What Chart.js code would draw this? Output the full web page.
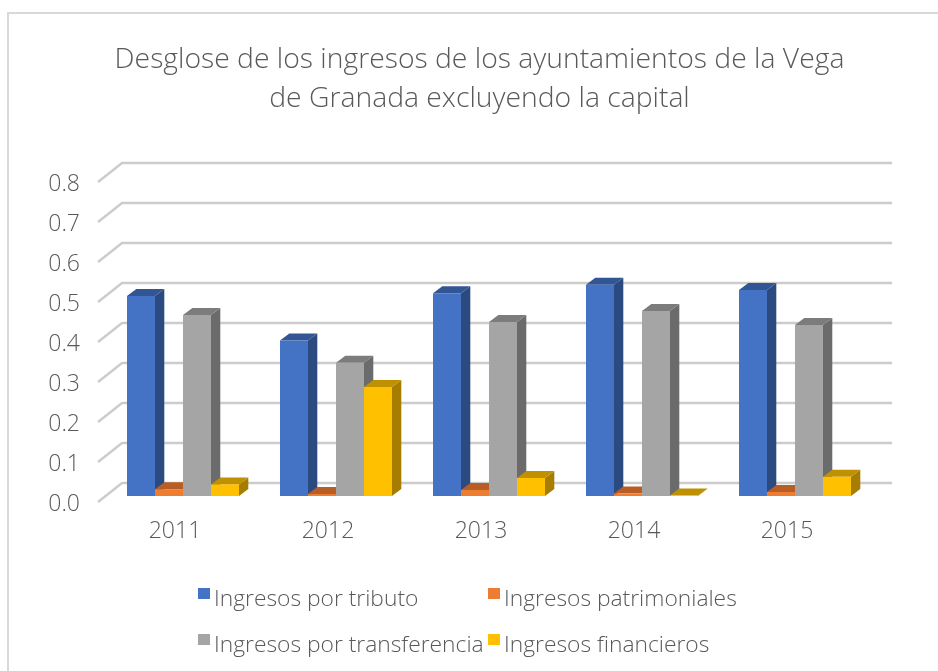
<!DOCTYPE html>
<html>
<head>
<meta charset="utf-8">
<title>Ingresos ayuntamientos</title>
<script src="https://cdn.jsdelivr.net/npm/chart.js@4"></script>
<style>
    html, body { margin: 0; padding: 0; background: #fff; overflow: hidden; }
    #wrap { position: relative; width: 938px; height: 671px; }
    /* chart frame: only top and left edges fall inside the picture */
    #frame { position: absolute; left: 7px; top: 12px; width: 960px; height: 700px; border: 2px solid #d9d9d9; box-sizing: border-box; }
    canvas { position: absolute; left: 0; top: 0; }
</style>
</head>
<body>
<div id="wrap">
    <div id="frame"></div>
    <canvas id="chart" width="938" height="671"></canvas>
</div>
<script>
const years = ["2011", "2012", "2013", "2014", "2015"];
const seriesNames = ["Ingresos por tributo", "Ingresos patrimoniales", "Ingresos por transferencia", "Ingresos financieros"];
const tributo = [0.5, 0.389, 0.507, 0.528, 0.515];
const patrimoniales = [0.017, 0.005, 0.015, 0.006, 0.01];
const transferencia = [0.4525, 0.333, 0.435, 0.4625, 0.4275];
const financieros = [0.029, 0.2725, 0.045, 0.001, 0.048];
const titleLines = ["Desglose de los ingresos de los ayuntamientos de la Vega", "de Granada excluyendo la capital"];

const frontColors = ["#4472C4", "#ED7D31", "#A5A5A5", "#FFC000"];
const sideColors = ["#2A4A80", "#9E5320", "#6B6B6B", "#A67D00"];
const topColors = ["#325594", "#B85E24", "#7C7C7C", "#BF9000"];

const FONT = "'Open Sans', Lato, sans-serif";
const TEXT = "#595959";
const DEPTH_X = 9.3, DEPTH_Y = 7; // bar depth in the fake 3D

function poly(ctx, pts, color) {
    ctx.fillStyle = color;
    ctx.beginPath();
    ctx.moveTo(pts[0][0], pts[0][1]);
    pts.slice(1).forEach(p => ctx.lineTo(p[0], p[1]));
    ctx.closePath();
    ctx.fill();
}

// back wall + left wall gridlines, read through the y scale
const wallGrid = {
    id: "wallGrid",
    beforeDatasetsDraw(chart) {
        const ctx = chart.ctx, y = chart.scales.y, area = chart.chartArea;
        ctx.save();
        ctx.strokeStyle = "#cccccc";
        ctx.lineWidth = 2.4;
        y.ticks.forEach(t => {
            const py = y.getPixelForValue(t.value);
            ctx.beginPath();
            ctx.moveTo(area.left - 8.5, py + 6);
            ctx.lineTo(area.left + 15.5, py - 13);
            ctx.lineTo(area.right + 20.5, py - 13);
            ctx.stroke();
        });
        ctx.restore();
    }
};

// Chart.js paints the first dataset last, but here each bar has to cover the
// side of the bar on its left, so the series get painted left to right instead
const barDepth = {
    id: "barDepth",
    afterDatasetsDraw(chart) {
        const ctx = chart.ctx;
        seriesNames.forEach((name, i) => {
            const meta = chart.getDatasetMeta(i);
            ctx.save();
            meta.data.forEach(bar => {
                const l = bar.x - bar.width / 2, r = bar.x + bar.width / 2;
                poly(ctx, [[r, bar.y], [r + DEPTH_X, bar.y - DEPTH_Y], [r + DEPTH_X, bar.base - DEPTH_Y], [r, bar.base]], sideColors[i]);
                poly(ctx, [[l, bar.y], [l + DEPTH_X, bar.y - DEPTH_Y], [r + DEPTH_X, bar.y - DEPTH_Y], [r, bar.y]], topColors[i]);
            });
            ctx.restore();
            meta.controller.draw();
        });
    },
    beforeDatasetDraw() {
        return false;
    }
};

// legend sits on a fixed two column grid, which the built in one cannot do
const legendX = [198, 488];
const legendY = [606, 652];
const gridLegend = {
    id: "gridLegend",
    afterDraw(chart) {
        const ctx = chart.ctx;
        ctx.save();
        ctx.font = "300 22.8px " + FONT;
        ctx.textBaseline = "alphabetic";
        seriesNames.forEach((name, i) => {
            const x = legendX[i % 2], y = legendY[Math.floor(i / 2)];
            ctx.fillStyle = frontColors[i];
            ctx.fillRect(x, y - 18, 12, 11);
            ctx.fillStyle = TEXT;
            ctx.fillText(name, x + 16, y);
        });
        ctx.restore();
    }
};

// title is centred on the whole frame, not on the plot
const titleShift = {
    id: "titleShift",
    afterLayout(chart) {
        chart.titleBlock.left += 23.75;
        chart.titleBlock.right += 23.75;
    }
};

const values = [tributo, patrimoniales, transferencia, financieros];

new Chart(document.getElementById("chart"), {
    type: "bar",
    data: {
        labels: years,
        datasets: seriesNames.map((name, i) => ({
            label: name,
            data: values[i],
            backgroundColor: frontColors[i]
        }))
    },
    plugins: [wallGrid, barDepth, gridLegend, titleShift],
    options: {
        responsive: false,
        animation: false,
        layout: { padding: { left: 40, right: 66.5, top: 0, bottom: 115 } },
        datasets: { bar: { categoryPercentage: 0.732, barPercentage: 1 } },
        plugins: {
            legend: { display: false },
            tooltip: { enabled: false },
            title: {
                display: true,
                text: titleLines,
                color: TEXT,
                font: { family: FONT, size: 28.3, weight: "300", lineHeight: 1.378 },
                padding: { top: 40.5, bottom: 57.5 }
            }
        },
        scales: {
            x: {
                grid: { display: false },
                border: { display: false },
                afterFit: s => { s.height = 60; },
                ticks: { color: TEXT, font: { family: FONT, size: 23, weight: "300" }, padding: 14, labelOffset: -8, maxRotation: 0 }
            },
            y: {
                min: 0,
                max: 0.8,
                grid: { display: false },
                border: { display: false },
                afterFit: s => { s.width = 66.5; },
                ticks: {
                    stepSize: 0.1,
                    color: TEXT,
                    font: { family: FONT, size: 23, weight: "300" },
                    padding: 18.5,
                    labelOffset: 8,
                    callback: v => v.toFixed(1)
                }
            }
        }
    }
});
</script>
</body>
</html>
